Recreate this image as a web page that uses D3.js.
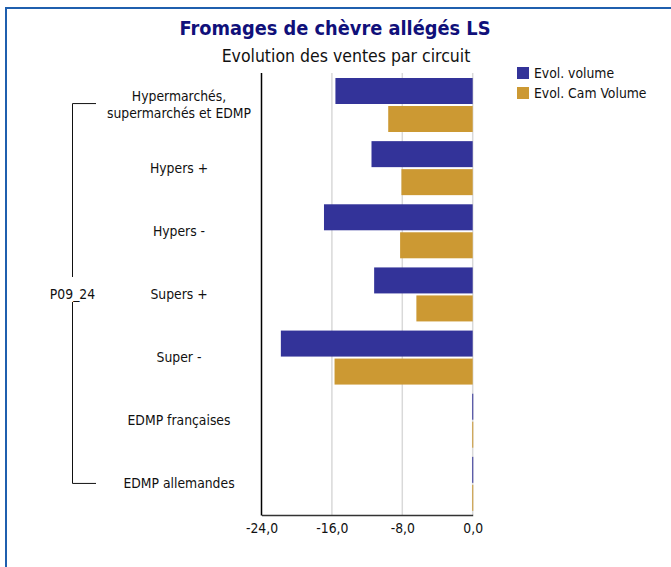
<!DOCTYPE html>
<html>
<head>
<meta charset="utf-8">
<script src="https://cdn.jsdelivr.net/npm/d3@7"></script>
<style>
  body { margin: 0; background: #fff; }
  svg text { font-family: "DejaVu Sans Condensed", "DejaVu Sans", sans-serif; }
</style>
</head>
<body>
<div id="chart"></div>
<script>
// data
const categories = [
  "Hypermarchés,|supermarchés et EDMP",
  "Hypers +",
  "Hypers -",
  "Supers +",
  "Super -",
  "EDMP françaises",
  "EDMP allemandes"
];
const evolVolume = [-15.6, -11.5, -16.9, -11.2, -21.8, -0.05, -0.05];
const evolCamVolume = [-9.6, -8.1, -8.25, -6.4, -15.7, -0.05, -0.05];
const seriesNames = ["Evol. volume", "Evol. Cam Volume"];
const colors = ["#333399", "#cc9933"];
const ticks = [-24, -16, -8, 0];
const groupLabel = "P09_24";

const w = 671, h = 567;
const fs = 13.8;

const svg = d3.select("#chart").append("svg")
  .attr("width", w)
  .attr("height", h);

// frame
svg.append("rect")
  .attr("x", 6).attr("y", 8)
  .attr("width", 700).attr("height", 620)
  .attr("fill", "none")
  .attr("stroke", "#1f5fae")
  .attr("stroke-width", 2);

// titles
svg.append("text")
  .attr("x", 335).attr("y", 35)
  .attr("text-anchor", "middle")
  .attr("font-size", 19.8)
  .attr("font-weight", "bold")
  .attr("fill", "#10107a")
  .text("Fromages de chèvre allégés LS");

svg.append("text")
  .attr("x", 346).attr("y", 62)
  .attr("text-anchor", "middle")
  .attr("font-size", 17.5)
  .attr("fill", "#111")
  .text("Evolution des ventes par circuit");

// scales
const x = d3.scaleLinear().domain([-24, 0]).range([261.5, 472.7]);
const y = d3.scaleBand().domain(categories).range([73, 515]);

// gridlines
svg.append("g").selectAll("line")
  .data(ticks.slice(1))
  .enter().append("line")
  .attr("x1", d => x(d)).attr("x2", d => x(d))
  .attr("y1", 73).attr("y2", 515)
  .attr("stroke", "#d9d9d9")
  .attr("stroke-width", 1.5);

// bars
const barH = 26, gap = 2, pad = 5;
const series = [evolVolume, evolCamVolume];
series.forEach(function(vals, s) {
  svg.append("g").selectAll("rect")
    .data(vals)
    .enter().append("rect")
    .attr("x", d => x(Math.min(d, 0)))
    .attr("y", (d, i) => y(categories[i]) + pad + s * (barH + gap))
    .attr("width", d => Math.max(1, Math.abs(x(d) - x(0))))
    .attr("height", barH)
    .attr("fill", colors[s]);
});

// axes
const xAxis = d3.axisBottom(x)
  .tickValues(ticks)
  .tickSize(0)
  .tickPadding(8)
  .tickFormat(d => d3.format(".1f")(d).replace(".", ",").replace("−", "-"));

const gx = svg.append("g")
  .attr("transform", "translate(0,515)")
  .call(xAxis);
gx.select(".domain").attr("stroke", "#333").attr("stroke-width", 1.5);
gx.selectAll("text")
  .attr("font-size", fs)
  .attr("fill", "#111")
  .style("font-family", "'DejaVu Sans Condensed', 'DejaVu Sans', sans-serif");

svg.append("line")
  .attr("x1", 261.5).attr("x2", 261.5)
  .attr("y1", 73).attr("y2", 515.5)
  .attr("stroke", "#000")
  .attr("stroke-width", 1.5);

// category labels
const lab = svg.append("g").selectAll("text")
  .data(categories)
  .enter().append("text")
  .attr("text-anchor", "middle")
  .attr("font-size", fs)
  .attr("fill", "#111")
  .attr("x", 179)
  .attr("y", d => y(d) + y.bandwidth() / 2 + 5);

lab.each(function(d) {
  const parts = d.split("|");
  const t = d3.select(this);
  if (parts.length === 1) {
    t.text(d);
  } else {
    t.attr("y", y(d) + y.bandwidth() / 2 - 4);
    parts.forEach(function(p, k) {
      t.append("tspan")
        .attr("x", 179)
        .attr("dy", k === 0 ? 0 : 17)
        .text(p);
    });
  }
});

// group bracket
const yTop = y(categories[0]) + y.bandwidth() / 2 - 1;
const yBot = y(categories[categories.length - 1]) + y.bandwidth() / 2;
const bx = 72.5;
const br = svg.append("g").attr("stroke", "#111").attr("stroke-width", 1);
br.append("line").attr("x1", bx).attr("x2", 96).attr("y1", yTop).attr("y2", yTop);
br.append("line").attr("x1", bx).attr("x2", 96).attr("y1", yBot).attr("y2", yBot);
br.append("line").attr("x1", bx).attr("x2", bx).attr("y1", yTop).attr("y2", 277);
br.append("line").attr("x1", bx).attr("x2", bx).attr("y1", 302).attr("y2", yBot);

svg.append("text")
  .attr("x", bx).attr("y", 299)
  .attr("text-anchor", "middle")
  .attr("font-size", fs)
  .attr("fill", "#111")
  .text(groupLabel);

// legend
const leg = svg.append("g").selectAll("g")
  .data(seriesNames)
  .enter().append("g")
  .attr("transform", (d, i) => "translate(517," + (67 + i * 20) + ")");
leg.append("rect")
  .attr("width", 12).attr("height", 12)
  .attr("fill", (d, i) => colors[i]);
leg.append("text")
  .attr("x", 17).attr("y", 11)
  .attr("font-size", fs)
  .attr("fill", "#111")
  .text(d => d);
</script>
</body>
</html>
